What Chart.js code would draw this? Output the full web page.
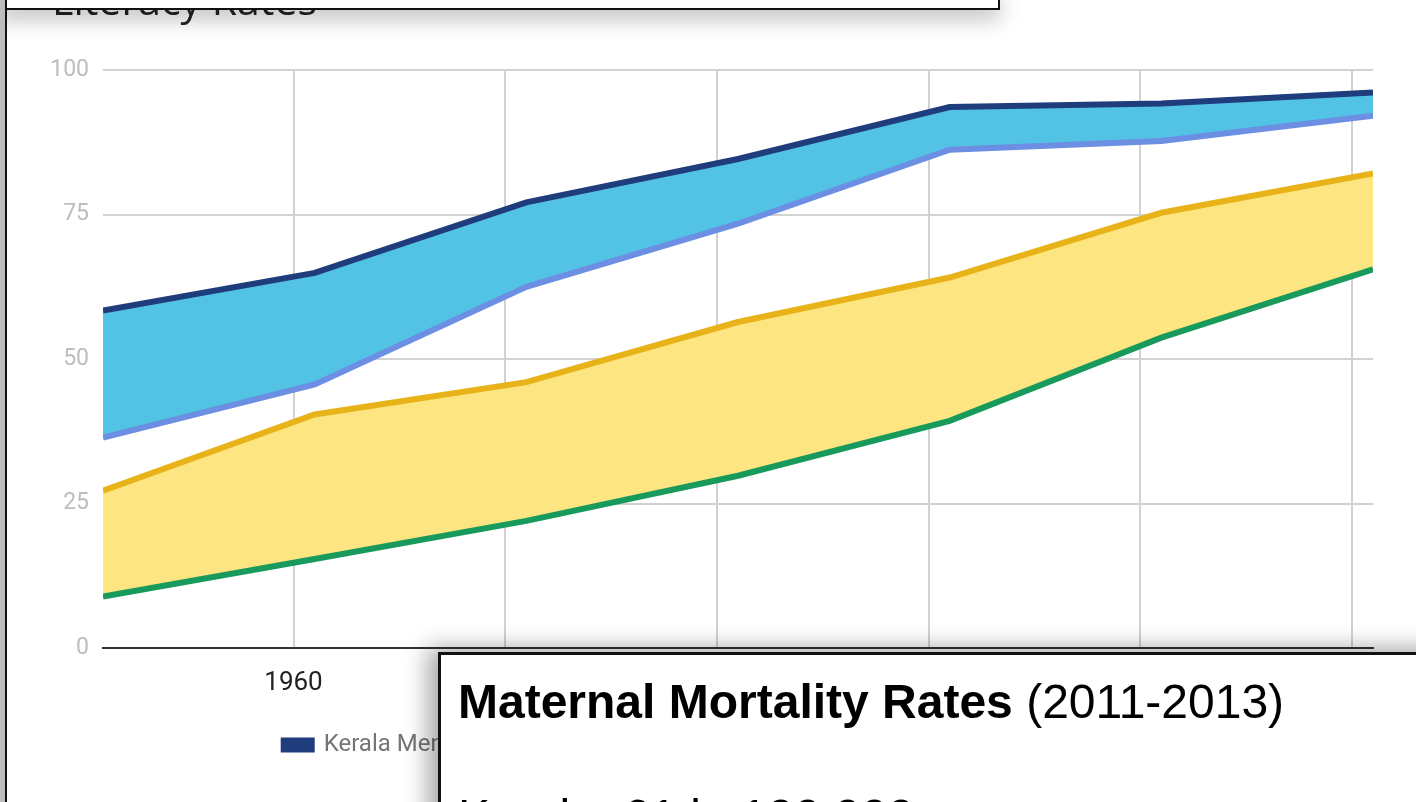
<!DOCTYPE html>
<html>
<head>
<meta charset="utf-8">
<script src="https://cdn.jsdelivr.net/npm/chart.js@4/dist/chart.umd.min.js"></script>
<style>
  html, body { margin: 0; padding: 0; background: #fff; width: 1416px; height: 802px; overflow: hidden; }
  #wrap { position: absolute; left: 0; top: 0; width: 1416px; height: 802px; }
  #chart { position: absolute; left: 0; top: 0; }
  #title { position: absolute; left: 52px; top: -29px; font: 41px "Open Sans", sans-serif; color: #222; white-space: nowrap; }
  #topbox { position: absolute; left: -4px; top: -10px; width: 1000px; height: 16px; background: #fff;
            border: 2px solid #111; box-shadow: 0 8px 22px rgba(0,0,0,0.28); }
  #leftedge { position: absolute; left: 0; top: 0; width: 5px; height: 802px; background: #bdbdbd; border-right: 2px solid #111; }
  #mmr { position: absolute; left: 438px; top: 652px; width: 1100px; height: 300px; background: #fff;
         border: 3px solid #111; box-shadow: -10px -4px 22px rgba(0,0,0,0.35); }
  #mmr .t { position: absolute; left: 17px; top: 19px; font: 48px "Liberation Sans", Arial, sans-serif; color: #000; white-space: nowrap; }
  #mmr .s { position: absolute; left: 17px; top: 134px; font: 48px "Liberation Sans", Arial, sans-serif; color: #000; white-space: nowrap; }
</style>
</head>
<body>
<div id="wrap">
  <canvas id="chart" width="1416" height="802"></canvas>
  <div id="title">Literacy Rates</div>
  <div id="topbox"></div>
  <div id="leftedge"></div>
  <div id="mmr">
    <div class="t"><b>Maternal Mortality Rates</b> (2011-2013)</div>
    <div class="s">Kerala: 61 in 100,000</div>
  </div>
</div>
<script>
// census years
const years = [1951, 1961, 1971, 1981, 1991, 2001, 2011];
const yearTicks = [1960, 1970, 1980, 1990, 2000, 2010];
const yTicks = [0, 25, 50, 75, 100];

// literacy rates, %
const keralaMen   = [58.4, 64.9, 77.1, 84.6, 93.6, 94.2, 96.1];
const keralaWomen = [36.4, 45.6, 62.5, 73.4, 86.2, 87.7, 92.1];
const indiaMen    = [27.2, 40.4, 46.0, 56.4, 64.1, 75.3, 82.1];
const indiaWomen  = [8.9, 15.4, 22.0, 29.8, 39.3, 53.7, 65.5];

function pts(vals) {
    return vals.map((v, i) => ({ x: years[i], y: v }));
}

const datasets = [
    { label: 'Kerala Men', data: pts(keralaMen), borderColor: '#1f3d7c', backgroundColor: '#1f3d7c',
      fill: { target: '+1', above: '#52c3e4', below: '#52c3e4' } },
    { label: 'Kerala Women', data: pts(keralaWomen), borderColor: '#6c8fe4', backgroundColor: '#6c8fe4', fill: false },
    { label: 'India Men', data: pts(indiaMen), borderColor: '#e8b318', backgroundColor: '#e8b318',
      fill: { target: '+1', above: '#fde682', below: '#fde682' } },
    { label: 'India Women', data: pts(indiaWomen), borderColor: '#179a5c', backgroundColor: '#179a5c', fill: false }
];
datasets.forEach(d => {
    d.borderWidth = 6;
    d.pointRadius = 0;
    d.tension = 0;
});

new Chart(document.getElementById('chart').getContext('2d'), {
    type: 'line',
    data: { datasets: datasets },
    options: {
        responsive: false,
        animation: false,
        layout: { padding: { top: 70, right: 43, left: 0, bottom: 35 } },
        plugins: {
            tooltip: { enabled: false },
            filler: { drawTime: 'beforeDatasetsDraw' },
            legend: {
                position: 'bottom',
                labels: {
                    boxWidth: 28,
                    boxHeight: 9,
                    padding: 42,
                    color: '#757575',
                    font: { family: 'Roboto', size: 24 }
                }
            }
        },
        scales: {
            x: {
                type: 'linear',
                min: years[0],
                max: years[years.length - 1],
                afterBuildTicks: s => { s.ticks = yearTicks.map(v => ({ value: v })); },
                afterFit: s => { s.height = 43; },
                ticks: {
                    callback: v => String(v),
                    color: '#222',
                    font: { family: 'Roboto', size: 26 },
                    padding: 20,
                    maxRotation: 0
                },
                grid: { color: '#d2d2d2', lineWidth: 2, drawTicks: false },
                border: { color: '#333', width: 2 }
            },
            y: {
                min: 0,
                max: 100,
                afterBuildTicks: s => { s.ticks = yTicks.map(v => ({ value: v })); },
                afterFit: s => { s.width = 103; },
                ticks: {
                    color: '#bdbdbd',
                    font: { family: 'Roboto', size: 23 },
                    padding: 14
                },
                grid: { color: '#d2d2d2', lineWidth: 2, drawTicks: false },
                border: { display: false }
            }
        }
    }
});
</script>
</body>
</html>
